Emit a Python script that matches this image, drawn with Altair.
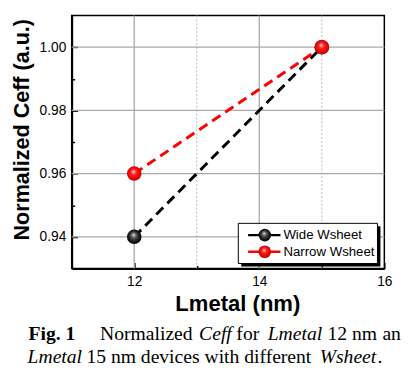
import altair as alt
import pandas as pd

# ---------------- data ----------------
series_names = ["Wide Wsheet", "Narrow Wsheet"]
lmetal_nm = [12, 15]
ceff_wide = [0.94, 1.00]
ceff_narrow = [0.96, 1.00]

x_tick_major = [12, 14, 16]
x_tick_minor = [13, 15]
y_tick_major = [0.94, 0.96, 0.98, 1.00]
y_tick_minor = [0.95, 0.97, 0.99]
x_grid_solid = [12, 14]
x_grid_dotted = [13, 15]
y_grid_solid = [0.94, 0.96, 0.98, 1.00]

x_title = "Lmetal (nm)"
y_title = "Normalized Ceff (a.u.)"
caption_line1 = ["Fig. 1", "Normalized", "Ceff", "for", "Lmetal", "12", "nm", "and"]
caption_line2 = ["Lmetal", "15 nm devices with different", "Wsheet", "."]

# ---------------- layout ----------------
W, H = 319, 258
SANS = "Liberation Sans"
SERIF = "Liberation Serif"

df = pd.DataFrame({
    "series": [series_names[0]] * len(lmetal_nm) + [series_names[1]] * len(lmetal_nm),
    "lmetal": lmetal_nm + lmetal_nm,
    "ceff": ceff_wide + ceff_narrow,
})

xscale = alt.Scale(domain=[11, 16], nice=False, zero=False)
yscale = alt.Scale(domain=[0.93, 1.01], nice=False, zero=False)


def tick_axis(orient, offset, values, size):
    return alt.Axis(orient=orient, offset=offset, values=values, tickSize=size,
                    tickWidth=1.5, tickColor="black", labels=False, domain=False,
                    grid=False, title=None)


grad_black = {"gradient": "radial", "x1": 0.45, "y1": 0.35, "r1": 0.0,
              "x2": 0.5, "y2": 0.5, "r2": 0.55,
              "stops": [{"offset": 0, "color": "#e8e8e8"},
                        {"offset": 0.35, "color": "#505050"},
                        {"offset": 0.75, "color": "#111111"},
                        {"offset": 1, "color": "#000000"}]}
grad_red = {"gradient": "radial", "x1": 0.45, "y1": 0.35, "r1": 0.0,
            "x2": 0.5, "y2": 0.5, "r2": 0.55,
            "stops": [{"offset": 0, "color": "#ffd6d6"},
                      {"offset": 0.35, "color": "#ff2020"},
                      {"offset": 0.8, "color": "#e00000"},
                      {"offset": 1, "color": "#b00000"}]}

grid_x = alt.Chart(pd.DataFrame({"v": x_grid_solid})).mark_rule(
    color="#a8a8a8", strokeWidth=1.3).encode(
    x=alt.X("v:Q", scale=xscale, axis=alt.Axis(
        orient="bottom", values=x_tick_major, title=x_title, tickSize=0,
        labelPadding=6, labelFontSize=14, labelFont=SANS, labelColor="black",
        labelFlush=False, titleFont=SANS, titleFontSize=22.5, titleFontWeight="bold",
        titleColor="black", titleX=169, titleY=43, titleBaseline="alphabetic",
        domainColor="black", domainWidth=2, grid=False)))

grid_x_dot = alt.Chart(pd.DataFrame({"v": x_grid_dotted})).mark_rule(
    color="#b8b8b8", strokeWidth=1, strokeDash=[2, 2]).encode(
    x=alt.X("v:Q", scale=xscale, axis=tick_axis("top", -H, x_tick_major, 6)))

grid_y = alt.Chart(pd.DataFrame({"v": y_grid_solid})).mark_rule(
    color="#a8a8a8", strokeWidth=1.3).encode(
    y=alt.Y("v:Q", scale=yscale, axis=alt.Axis(
        orient="left", values=y_tick_major, format=".2f", title=y_title, tickSize=0,
        labelPadding=6, labelFontSize=14, labelFont=SANS, labelColor="black",
        labelFlush=False, titleFont=SANS, titleFontSize=22, titleFontWeight="bold",
        titleColor="black", titleX=-44, titleY=116, titleBaseline="alphabetic",
        domainColor="black", domainWidth=2, grid=False)))

lines = alt.Chart(df).mark_line(strokeWidth=3, strokeDash=[10, 6]).encode(
    x=alt.X("lmetal:Q", scale=xscale, axis=tick_axis("top", -H, x_tick_minor, 3)),
    y=alt.Y("ceff:Q", scale=yscale, axis=tick_axis("right", -W, y_tick_major, 6)),
    color=alt.Color("series:N", scale=alt.Scale(domain=series_names, range=["black", "red"]),
                    legend=None),
)

pts_wide = alt.Chart(df[df["series"] == series_names[0]]).mark_circle(
    size=220, opacity=1, fill=grad_black).encode(
    x=alt.X("lmetal:Q", scale=xscale, axis=None),
    y=alt.Y("ceff:Q", scale=yscale, axis=tick_axis("right", -W, y_tick_minor, 3)))

pts_narrow = alt.Chart(df[df["series"] == series_names[1]]).mark_circle(
    size=220, opacity=1, fill=grad_red).encode(
    x=alt.X("lmetal:Q", scale=xscale, axis=None),
    y=alt.Y("ceff:Q", scale=yscale, axis=None))

one = pd.DataFrame({"k": [0]})

# legend box with shadow
leg_shadow = alt.Chart(one).mark_rect(color="black").encode(
    x=alt.value(173), x2=alt.value(315), y=alt.value(215), y2=alt.value(256))
leg_box = alt.Chart(one).mark_rect(fill="white", stroke="black", strokeWidth=1).encode(
    x=alt.value(170), x2=alt.value(312), y=alt.value(212), y2=alt.value(253))

legend_layers = []
for name, col, grad, ry in [(series_names[0], "black", grad_black, 224),
                            (series_names[1], "red", grad_red, 241)]:
    lab = pd.DataFrame({"label": [name]})
    legend_layers.append(alt.Chart(lab).mark_rule(color=col, strokeWidth=2.5).encode(
        x=alt.value(180), x2=alt.value(213), y=alt.value(ry)))
    legend_layers.append(alt.Chart(lab).mark_circle(size=165, opacity=1, fill=grad).encode(
        x=alt.value(197), y=alt.value(ry)))
    legend_layers.append(alt.Chart(lab).mark_text(
        align="left", baseline="middle", font=SANS, fontSize=13.5, color="black").encode(
        x=alt.value(216), y=alt.value(ry), text="label:N"))

# caption (justified, mixed styles)
cap_layers = []
styles1 = [("bold", "normal"), ("normal", "normal"), ("normal", "italic"), ("normal", "normal"),
           ("normal", "italic"), ("normal", "normal"), ("normal", "normal"), ("normal", "normal")]
xs1 = [29, 102, 203, 241, 273, 334, 359, 390]
styles2 = [("normal", "italic"), ("normal", "normal"), ("normal", "italic"), ("normal", "normal")]
xs2 = [28, 88, 326, 385]
for words, styles, xs, base in [(caption_line1, styles1, xs1, 343), (caption_line2, styles2, xs2, 367)]:
    for w, (wt, st), xi in zip(words, styles, xs):
        cap_layers.append(alt.Chart(pd.DataFrame({"t": [w]})).mark_text(
            align="left", baseline="alphabetic", font=SERIF, fontSize=20,
            fontWeight=wt, fontStyle=st, color="black").encode(
            x=alt.value(xi - 73), y=alt.value(base - 12), text="t:N"))

chart = alt.layer(
    grid_x, grid_x_dot, grid_y, lines, pts_wide, pts_narrow,
    leg_shadow, leg_box, *legend_layers, *cap_layers
).resolve_axis(x="independent", y="independent").properties(
    width=W, height=H,
    padding={"left": 65, "top": 4, "right": 17, "bottom": 104},
    autosize=alt.AutoSizeParams(type="none"),
).configure_view(stroke="black", strokeWidth=1.5)

chart.save("out.html", embed_options={"renderer": "svg", "actions": False})
